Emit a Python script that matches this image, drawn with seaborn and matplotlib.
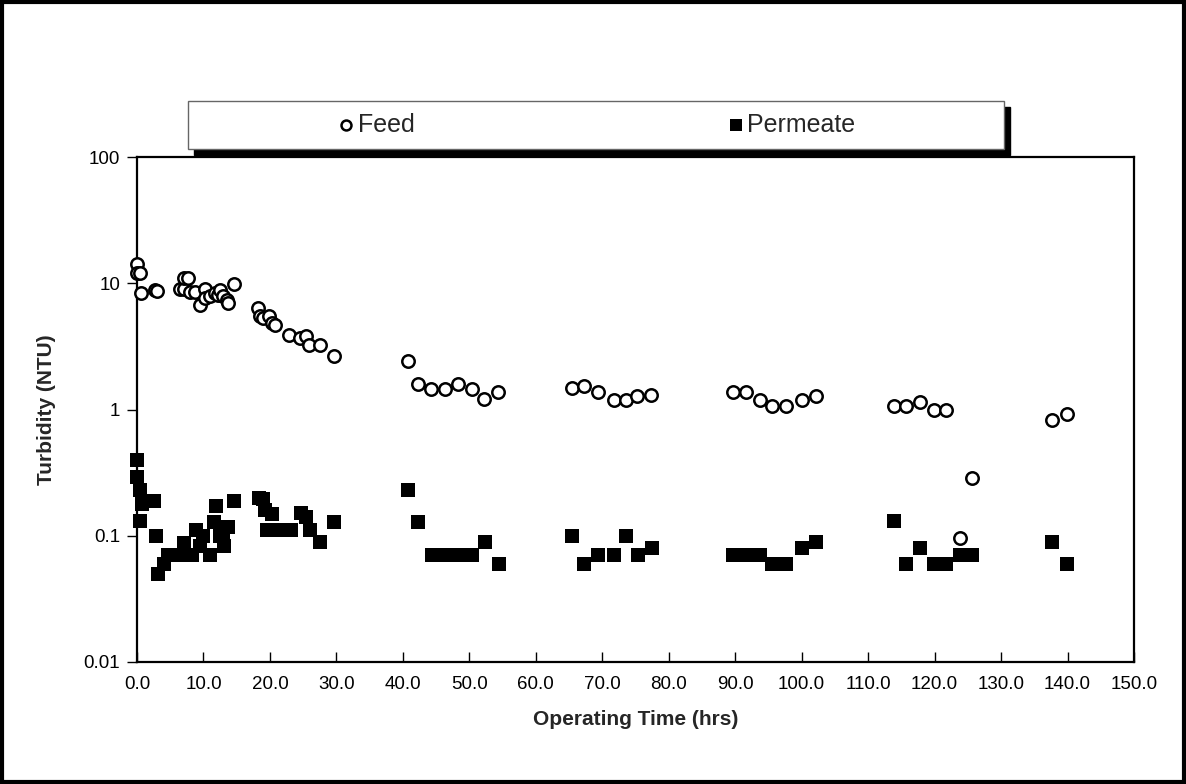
import matplotlib
matplotlib.use("Agg")
import matplotlib.pyplot as plt
import matplotlib.ticker as mticker
from matplotlib.patches import Rectangle
import seaborn as sns
import pandas as pd

feed_time = [0.0, 0.0, 0.5, 0.6, 2.7, 3.0, 6.5, 7.0, 7.1, 7.6, 8.0, 8.7, 9.5, 10.2, 10.2,
             11.0, 11.7, 12.2, 12.5, 13.0, 13.5, 13.7, 14.6, 18.2, 18.5, 19.0, 19.8, 20.3, 20.8,
             22.8, 24.5, 25.5, 25.9, 27.5, 29.6, 40.8, 42.3, 44.3, 46.4, 48.3, 50.4, 52.2, 54.3,
             65.4, 67.2, 69.3, 71.8, 73.6, 75.3, 77.4, 89.6, 91.6, 93.7, 95.6, 97.6, 100.0, 102.2,
             113.9, 115.7, 117.8, 119.9, 121.7, 123.8, 125.7, 137.7, 139.9]
feed_ntu = [14.3, 12.1, 12.1, 8.4, 8.9, 8.7, 9.0, 9.0, 11.0, 11.0, 8.6, 8.5, 6.7, 9.0, 7.6,
            7.9, 8.4, 8.1, 8.9, 7.9, 7.4, 7.0, 9.85, 6.35, 5.5, 5.3, 5.55, 4.85, 4.7,
            3.9, 3.7, 3.85, 3.27, 3.27, 2.64, 2.41, 1.58, 1.46, 1.46, 1.58, 1.46, 1.21, 1.37,
            1.47, 1.53, 1.37, 1.18, 1.18, 1.27, 1.31, 1.37, 1.37, 1.18, 1.06, 1.06, 1.18, 1.27,
            1.06, 1.06, 1.14, 0.99, 0.99, 0.096, 0.285, 0.82, 0.92]

perm_time = [0.0, 0.0, 0.45, 0.7, 2.6, 0.45, 2.9, 3.1, 4.1, 4.7, 5.5, 6.2, 7.0, 8.2, 7.1,
             8.9, 9.5, 10.0, 11.0, 11.9, 11.6, 12.5, 13.0, 13.1, 13.7, 14.6, 18.3, 18.9, 19.2,
             20.3, 19.6, 21.0, 22.3, 23.2, 24.6, 25.5, 26.0, 27.5, 29.6, 40.8, 42.3, 44.4, 46.5,
             48.4, 50.4, 52.3, 54.4, 65.5, 67.3, 69.4, 71.8, 73.6, 75.4, 77.5, 89.6, 91.6, 93.7,
             95.6, 97.6, 100.1, 102.2, 113.9, 115.7, 117.8, 119.9, 121.7, 123.8, 125.7, 137.7, 139.9]
perm_ntu = [0.40, 0.29, 0.23, 0.177, 0.19, 0.13, 0.10, 0.05, 0.06, 0.07, 0.07, 0.07, 0.07, 0.07, 0.088,
            0.112, 0.083, 0.10, 0.07, 0.172, 0.128, 0.10, 0.10, 0.083, 0.118, 0.19, 0.20, 0.196, 0.16,
            0.15, 0.112, 0.112, 0.112, 0.112, 0.152, 0.14, 0.112, 0.09, 0.128, 0.23, 0.128, 0.07, 0.07,
            0.07, 0.07, 0.089, 0.06, 0.10, 0.06, 0.07, 0.07, 0.10, 0.07, 0.08, 0.07, 0.07, 0.07,
            0.06, 0.06, 0.08, 0.09, 0.13, 0.06, 0.08, 0.06, 0.06, 0.07, 0.07, 0.09, 0.06]

x_ticks = [0, 10, 20, 30, 40, 50, 60, 70, 80, 90, 100, 110, 120, 130, 140, 150]
y_ticks = [0.01, 0.1, 1, 10, 100]
y_tick_labels = ["0.01", "0.1", "1", "10", "100"]

sns.set_theme(style="white")
plt.rcParams["font.family"] = ["Liberation Sans", "DejaVu Sans"]

W, H = 1186, 784
fig = plt.figure(figsize=(W / 100, H / 100), dpi=100)
ax = fig.add_axes([137 / W, 1 - 662 / H, (1134 - 137) / W, (662 - 157) / H])

feed_df = pd.DataFrame({"t": feed_time, "v": feed_ntu})
perm_df = pd.DataFrame({"t": perm_time, "v": perm_ntu})

sns.scatterplot(data=feed_df, x="t", y="v", ax=ax, marker="o", s=80,
                facecolor="white", edgecolor="black", linewidth=1.8,
                label="Feed", clip_on=False, zorder=3)
sns.scatterplot(data=perm_df, x="t", y="v", ax=ax, marker="s", s=100,
                color="black", edgecolor="black", linewidth=0,
                label="Permeate", clip_on=False, zorder=4)

ax.set_yscale("log")
ax.set_xlim(0, 150)
ax.set_ylim(0.01, 100)
ax.set_xticks(x_ticks)
ax.xaxis.set_major_formatter(mticker.FormatStrFormatter("%.1f"))
ax.set_yticks(y_ticks)
ax.set_yticklabels(y_tick_labels)
ax.yaxis.set_minor_locator(mticker.NullLocator())
ax.tick_params(axis="both", labelsize=13.5, colors="black")
ax.tick_params(axis="y", direction="out", length=7, width=1, left=True, pad=5)
ax.tick_params(axis="x", direction="in", length=7, width=1, bottom=True, pad=10)

for sp in ax.spines.values():
    sp.set_color("black")
    sp.set_linewidth(1.6)
    sp.set_visible(True)

ax.set_xlabel("Operating Time (hrs)", fontsize=15, fontweight="bold", labelpad=12)
ax.set_ylabel("Turbidity (NTU)", fontsize=15, fontweight="bold", labelpad=20)

# legend box with drop shadow
fig.patches.append(Rectangle((194 / W, 1 - 155 / H), (1004 - 188) / W, 48 / H,
                             transform=fig.transFigure, facecolor="black",
                             edgecolor="black", zorder=1))
fig.patches.append(Rectangle((188 / W, 1 - 149 / H), (1004 - 188) / W, 48 / H,
                             transform=fig.transFigure, facecolor="white",
                             edgecolor="#666666", linewidth=1, zorder=2))
handles, labels = ax.get_legend_handles_labels()
ax.get_legend().remove()
leg = fig.legend(handles, labels, loc="center", bbox_to_anchor=(597 / W, 1 - 125 / H),
                 ncol=2, frameon=False, fontsize=18, columnspacing=12.55,
                 handletextpad=0.15, handlelength=0.6, markerscale=0.8)

# outer frame
fig.patches.append(Rectangle((0.002, 0.003), 0.996, 0.994, transform=fig.transFigure,
                             facecolor="none", edgecolor="black", linewidth=3, zorder=5))

fig.savefig("out.png", dpi=100)
